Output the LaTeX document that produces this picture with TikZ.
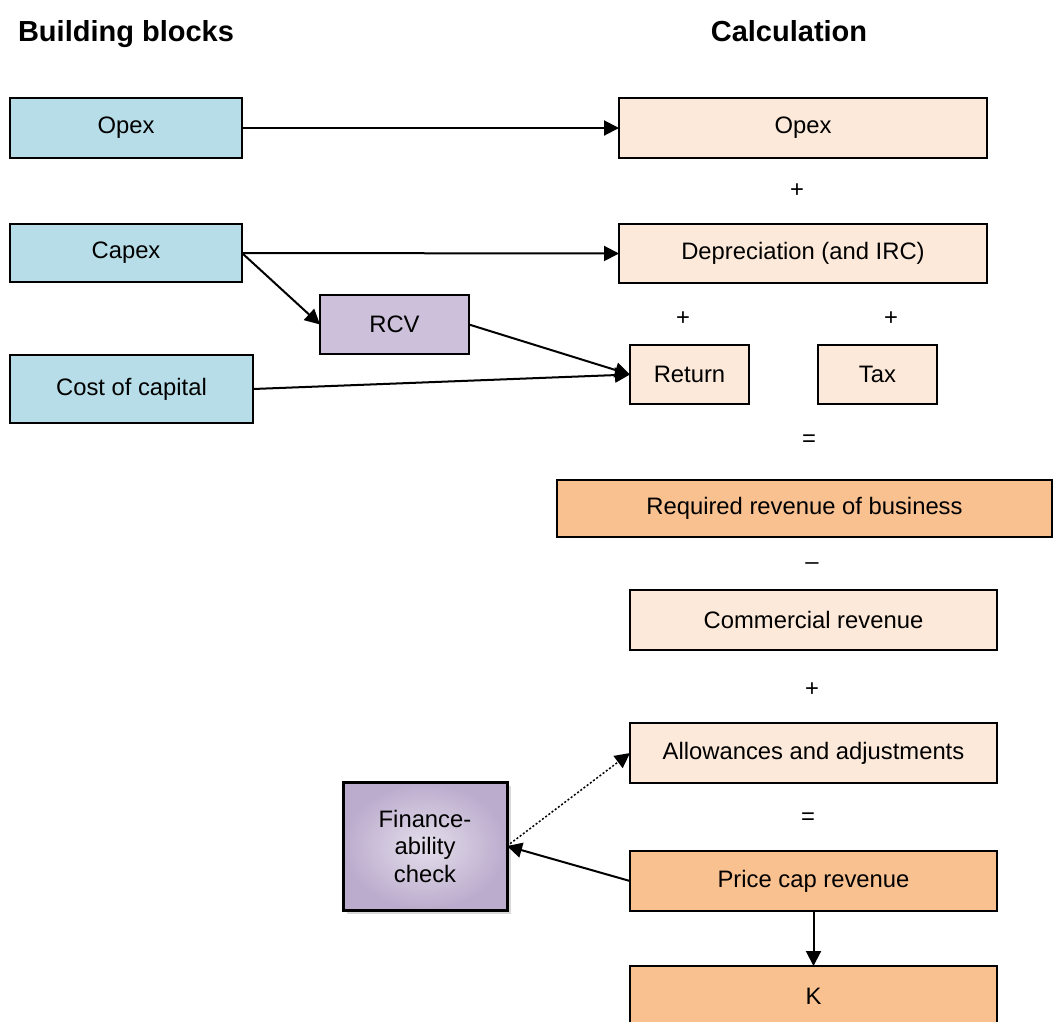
\documentclass[tikz,border=0pt]{standalone}
\usepackage{fontspec}
\setmainfont{Liberation Sans}
\usetikzlibrary{arrows.meta,shadows}
\definecolor{blockblue}{HTML}{B7DEE8}
\definecolor{calclight}{HTML}{FDE9D9}
\definecolor{calcdark}{HTML}{F9C090}
\definecolor{rcvpurple}{HTML}{CCC0DA}
\definecolor{finpurple}{HTML}{B3A2C7}
\begin{document}
\begin{tikzpicture}[x=1pt,y=-1pt,inner sep=0pt,outer sep=0pt,line width=2pt,
font=\fontsize{23.8}{27.5}\selectfont,
buildblock/.style={draw,rectangle,fill=blockblue,minimum width=232pt,minimum height=60pt},
calcblock/.style={draw,rectangle,fill=calclight,minimum width=368pt,minimum height=60pt},
sumblock/.style={draw,rectangle,fill=calcdark,minimum width=368pt,minimum height=60pt},
heading/.style={font=\fontsize{29}{34}\selectfont\bfseries,anchor=base},
arr/.style={-{Triangle[length=15pt,width=15pt]},line width=2pt}]
\useasboundingbox (0,0) rectangle (1054,1021);
% headings
\node[heading] (hbb) at (126,41) {Building blocks};
\node[heading] (hcalc) at (789,41) {Calculation};
% building blocks
\node[buildblock] (opexL) at (126,128) {Opex};
\node[buildblock,minimum height=58pt] (capex) at (126,253) {Capex};
\node[buildblock,minimum width=243pt,minimum height=68pt] (coc) at (131.5,389) {Cost of capital};
\node[draw,rectangle,fill=rcvpurple,minimum width=149pt,minimum height=59pt] (rcv) at (394.5,324.5) {RCV};
% calculation
\node[calcblock] (opexR) at (803,128) {Opex};
\node[calcblock,minimum height=59pt] (dep) at (803,253.5) {Depreciation (and IRC)};
\node[calcblock,minimum width=119pt,minimum height=59pt] (ret) at (689.5,374.5) {Return};
\node[calcblock,minimum width=119pt,minimum height=59pt] (tax) at (877.5,374.5) {Tax};
\node[sumblock,minimum width=495pt,minimum height=57pt] (req) at (804.5,508.5) {Required revenue of business};
\node[calcblock,minimum width=367pt] (com) at (813.5,620) {Commercial revenue};
\node[calcblock,minimum width=367pt] (allow) at (813.5,753) {Allowances and adjustments};
\node[sumblock,minimum width=367pt] (pcap) at (813.5,881) {Price cap revenue};
\node[sumblock,minimum width=367pt] (K) at (813.5,996) {K};
\node[draw,rectangle,line width=3pt,shading=radial,inner color=white!65!finpurple,outer color=finpurple!90,
  drop shadow={shadow xshift=4pt,shadow yshift=-4pt,fill=gray!60},
  minimum width=164pt,minimum height=128pt,align=center] (fin) at (425,846) {Finance-\\ability\\check};
% operators
\node (op1) at (797,191) {+};
\node (op2) at (683,319) {+};
\node (op3) at (891,319) {+};
\node (op4) at (809,441) {=};
\node (op5) at (812,566) {--};
\node (op6) at (812,690) {+};
\node (op7) at (808,819) {=};
% connectors
\draw[arr] (opexL.east) -- (opexR.west);
\draw[arr] (capex.east) -- (dep.west);
\draw[arr] (capex.east) -- (rcv.west);
\draw[arr] (rcv.east) -- (ret.west);
\draw[arr] (coc.east) -- (ret.west);
\draw[arr] (pcap.west) -- (fin.east);
\draw[arr,dotted,line width=1.5pt] (fin.east) -- (allow.west);
\draw[arr] (pcap.south) -- (K.north);
\end{tikzpicture}
\end{document}
